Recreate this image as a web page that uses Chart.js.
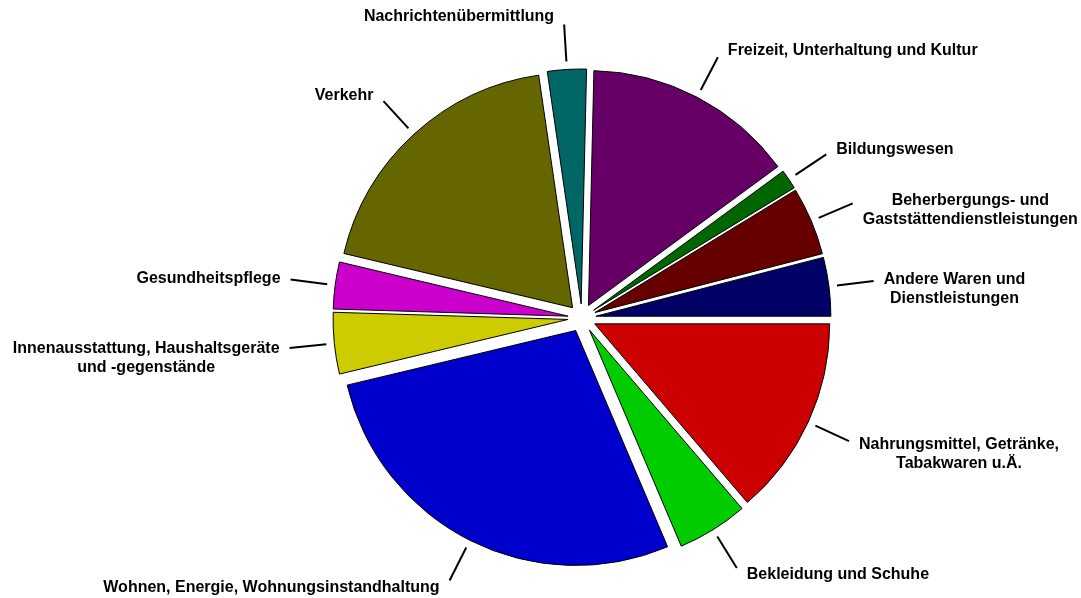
<!DOCTYPE html>
<html>
<head>
<meta charset="utf-8">
<script src="https://cdn.jsdelivr.net/npm/chart.js@4"></script>
<style>
  html, body { margin: 0; padding: 0; background: #fff; }
  #wrap { width: 1081px; height: 598px; position: relative; }
</style>
</head>
<body>
<div id="wrap"><canvas id="pie"></canvas></div>
<script>
/* ── DATA ───────────────────────────────────── */
const labels = [
    ['Nahrungsmittel, Getränke,', 'Tabakwaren u.Ä.'],
    'Bekleidung und Schuhe',
    'Wohnen, Energie, Wohnungsinstandhaltung',
    ['Innenausstattung, Haushaltsgeräte', 'und -gegenstände'],
    'Gesundheitspflege',
    'Verkehr',
    'Nachrichtenübermittlung',
    'Freizeit, Unterhaltung und Kultur',
    'Bildungswesen',
    ['Beherbergungs- und', 'Gaststättendienstleistungen'],
    ['Andere Waren und', 'Dienstleistungen']
];
const shares = [13.75, 4.86, 27.67, 4.22, 3.22, 19.0, 2.67, 14.56, 1.36, 4.69, 4.03];
const colors = ['#CC0000', '#00CC00', '#0000CC', '#CCCC00', '#CC00CC', '#666600',
                '#006666', '#660066', '#006600', '#660000', '#000066'];

const EXPLODE = 14; // px every slice is pulled out along its bisector

/* ── EXPLODED SLICES ────────────────────────── */
// Chart.js' own `offset` scales by 1/4 and grows small slices, so shift the
// library's arc drawing instead.
const explode = {
    id: 'explode',
    beforeDatasetDraw(chart) {
        chart.getDatasetMeta(0).data.forEach(arc => {
            if (arc._exploded) return;
            arc._exploded = true;
            const draw = arc.draw;
            arc.draw = function (ctx) {
                const mid = (this.startAngle + this.endAngle) / 2;
                ctx.save();
                ctx.translate(Math.cos(mid) * EXPLODE, Math.sin(mid) * EXPLODE);
                draw.call(this, ctx);
                ctx.restore();
            };
        });
    }
};

/* ── LABELS WITH LEADER LINES ───────────────── */
const leaderLabels = {
    id: 'leaderLabels',
    afterDatasetsDraw(chart) {
        const ctx = chart.ctx;
        const meta = chart.getDatasetMeta(0);
        ctx.save();
        ctx.font = 'bold 16px "Liberation Sans", Arial, sans-serif';
        ctx.fillStyle = '#000';
        ctx.strokeStyle = '#000';
        ctx.lineWidth = 2;
        ctx.textBaseline = 'middle';
        meta.data.forEach((arc, i) => {
            const p = arc.getProps(['x', 'y', 'startAngle', 'endAngle', 'outerRadius'], true);
            const mid = (p.startAngle + p.endAngle) / 2;
            const cos = Math.cos(mid), sin = Math.sin(mid);
            const r0 = p.outerRadius + EXPLODE + 8, r1 = p.outerRadius + EXPLODE + 45;
            const ex = p.x + cos * r1, ey = p.y + sin * r1;
            ctx.beginPath();
            ctx.moveTo(p.x + cos * r0, p.y + sin * r0);
            ctx.lineTo(ex, ey);
            ctx.stroke();

            const lines = [].concat(chart.data.labels[i]);
            const w = Math.max(...lines.map(l => ctx.measureText(l).width));
            const left = cos >= 0 ? ex + 10 : ex - 10 - w;
            let y = ey + 8 * sin;
            ctx.textAlign = 'center';
            lines.forEach(l => {
                ctx.fillText(l, left + w / 2, y);
                y += 19;
            });
        });
        ctx.restore();
    }
};

/* ── PIE ────────────────────────────────────── */
new Chart(document.getElementById('pie'), {
    type: 'pie',
    data: {
        labels,
        datasets: [{
            data: shares,
            backgroundColor: colors,
            borderColor: '#000',
            borderWidth: 1,
        }]
    },
    options: {
        responsive: true, maintainAspectRatio: false,
        animation: false,
        rotation: 90,
        radius: 235,
        layout: { padding: { left: 83, top: 38, right: 0, bottom: 0 } },
        plugins: { legend: { display: false }, tooltip: { enabled: false } }
    },
    plugins: [explode, leaderLabels]
});
</script>
</body>
</html>
